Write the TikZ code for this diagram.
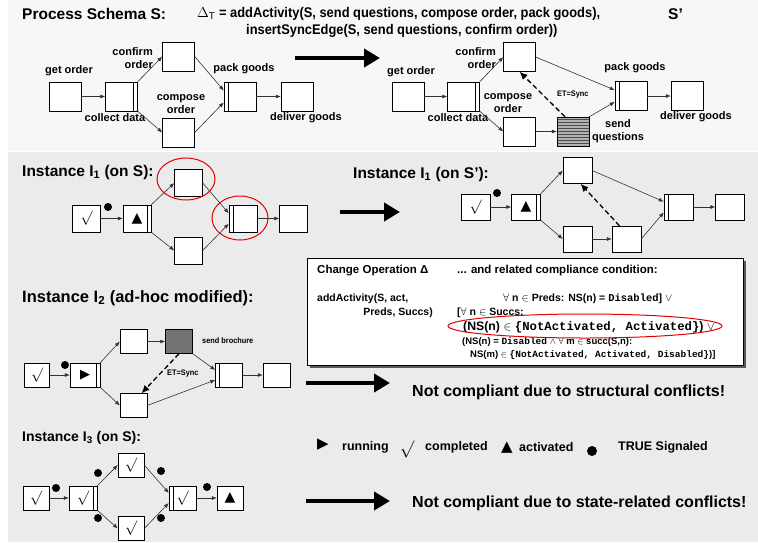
\documentclass[tikz,border=0pt]{standalone}
\usepackage{amssymb}
\usepackage{fontspec}
\setmainfont{Liberation Sans}
\setmonofont{Liberation Mono}
\newfontfamily\narrowsf[FakeStretch=0.92]{Liberation Sans}
\newfontfamily\symfont{DejaVu Sans}
\usetikzlibrary{arrows.meta,shadows}

\newcommand{\chk}{\fontsize{14}{14}\selectfont$\surd$}
\newcommand{\runsym}{{\symfont\fontsize{13}{13}\selectfont ▶}}
\newcommand{\actsym}{{\symfont\fontsize{14}{14}\selectfont ▲}}

\begin{document}
\begin{tikzpicture}[x=1pt, y=-1pt,
    act/.style={draw, fill=white, minimum width=32pt, minimum height=29pt, inner sep=0pt},
    ins/.style={act, minimum width=27pt, minimum height=25pt},
    splitr/.style={path picture={\draw ([xshift=-4pt]path picture bounding box.north east) -- ([xshift=-4pt]path picture bounding box.south east);}},
    joinl/.style={path picture={\draw ([xshift=4pt]path picture bounding box.north west) -- ([xshift=4pt]path picture bounding box.south west);}},
    hatch/.style={fill=black!30, path picture={\foreach \k in {1,...,9} \draw[black!70] ([yshift=\k*3pt]path picture bounding box.south west) -- ([yshift=\k*3pt]path picture bounding box.south east);}},
    flow/.style={-{Latex[length=5pt,width=4pt]}, line width=0.6pt, black!80},
    sync/.style={-{Latex[length=8pt,width=7pt]}, dashed, dash pattern=on 5pt off 3pt, line width=1.3pt},
    bigarrow/.style={-{Triangle[length=16pt,width=18pt]}, line width=4.5pt},
    sig/.style={circle, fill, inner sep=0pt, minimum size=8pt},
    lbl/.style={font=\bfseries\fontsize{11}{12.5}\selectfont, align=center, inner sep=0pt},
    ttl/.style={font=\bfseries\fontsize{15.5}{17}\selectfont, anchor=west, inner sep=0pt},
    tiny/.style={font=\narrowsf\bfseries\fontsize{8}{9}\selectfont, anchor=west, inner sep=0pt},
    txt/.style={font=\bfseries\fontsize{10.5}{12}\selectfont, anchor=west, inner sep=0pt},
    ring/.style={red!90!black, line width=1pt}]

    \useasboundingbox (0,0) rectangle (758,542);
    \fill[white] (0,0) rectangle (758,542);
    \fill[black!3] (8,0) rectangle (758,151);
    \fill[black!8] (8,152) rectangle (758,542);

    % process schema S
    \node[ttl] (tS) at (22,14) {Process Schema S:};
    \node[ttl, font=\narrowsf\bfseries\fontsize{14}{15}\selectfont] (dT) at (197,14) {$\Delta_{\mathrm{T}}$ = addActivity(S, send questions, compose order, pack goods),};
    \node[ttl, font=\narrowsf\bfseries\fontsize{14}{15}\selectfont] (sy) at (246,31) {insertSyncEdge(S, send questions, confirm order))};
    \node[ttl] (tT) at (668,14) {S’};

    \node[act] (getS) at (65,96.5) {};
    \node[act, splitr] (collS) at (121.5,96.5) {};
    \node[act] (confS) at (178.5,56.5) {};
    \node[act] (compS) at (178.5,132.5) {};
    \node[act, joinl] (packS) at (240,96.5) {};
    \node[act] (delS) at (297,96.5) {};
    \node[lbl] at (69,71) {get order};
    \node[lbl, align=right, anchor=east] at (153,58) {confirm\\order};
    \node[lbl] at (115,118) {collect data};
    \node[lbl] at (181,104) {compose\\order};
    \node[lbl] at (244,69) {pack goods};
    \node[lbl] at (306,118) {deliver goods};

    \draw[flow] (getS) -- (collS);
    \draw[flow] (collS.north east) -- (confS.west);
    \draw[flow] (collS.south east) -- (compS.west);
    \draw[flow] (confS.east) -- (packS.160);
    \draw[flow] (compS.east) -- (packS.200);
    \draw[flow] (packS) -- (delS);

    \coordinate (p1) at (295,58);
    \coordinate (q1) at (380,58);
    \draw[bigarrow] (p1) -- (q1);

    % process schema S'
    \node[act] (getT) at (408,96.5) {};
    \node[act, splitr] (collT) at (463.5,96.5) {};
    \node[act] (confT) at (519.5,57) {};
    \node[act] (compT) at (519.5,131.5) {};
    \node[act, hatch] (sendT) at (573,131.5) {};
    \node[act, joinl] (packT) at (631,96) {};
    \node[act] (delT) at (687,96) {};
    \node[lbl] at (411,72) {get order};
    \node[lbl, align=right, anchor=east] at (496,58) {confirm\\order};
    \node[lbl] at (458,118) {collect data};
    \node[lbl] at (508,103) {compose\\order};
    \node[lbl] at (618,131) {send\\questions};
    \node[lbl] at (635,68) {pack goods};
    \node[lbl] at (696,117) {deliver goods};
    \node[tiny] at (557,95) {ET=Sync};

    \draw[flow] (getT) -- (collT);
    \draw[flow] (collT.north east) -- (confT.west);
    \draw[flow] (collT.south east) -- (compT.west);
    \draw[flow] (compT) -- (sendT);
    \draw[flow] (confT.east) -- (packT.160);
    \draw[flow] (sendT.north east) -- (packT.200);
    \draw[flow] (packT) -- (delT);
    \draw[sync] ([xshift=-8pt]sendT.north) -- (confT.south);

    % instance I1 on S
    \node[ttl] (t1) at (22,172) {Instance I\textsubscript{1} (on S):};
    \node[ins, minimum width=28pt, minimum height=27pt] (a1) at (86.5,218.5) {\chk};
    \node[ins, minimum width=28pt, minimum height=27pt, splitr] (b1) at (137,218.5) {\actsym};
    \node[ins, minimum width=28pt, minimum height=27pt] (c1) at (188.5,183) {};
    \node[ins, minimum width=28pt, minimum height=27pt] (d1) at (188.5,250.5) {};
    \node[ins, minimum width=28pt, minimum height=27pt, joinl] (e1) at (243,218.5) {};
    \node[ins, minimum width=28pt, minimum height=27pt] (f1) at (293.5,218.5) {};
    \node[sig] (s1) at (108,207) {};
    \draw[flow] (a1) -- (b1);
    \draw[flow] (b1.north east) -- (c1.west);
    \draw[flow] (b1.south east) -- (d1.west);
    \draw[flow] (c1.east) -- (e1.160);
    \draw[flow] (d1.east) -- (e1.200);
    \draw[flow] (e1) -- (f1);
    \draw[ring] (186,179) ellipse [x radius=29pt, y radius=21pt];
    \draw[ring] (240,218) ellipse [x radius=28pt, y radius=22pt];

    \coordinate (p2) at (340,212);
    \coordinate (q2) at (400,212);
    \draw[bigarrow] (p2) -- (q2);

    % instance I1 on S'
    \node[ttl] (t1b) at (353,174) {Instance I\textsubscript{1} (on S’):};
    \node[ins, minimum width=29pt, minimum height=26pt] (a2) at (475.5,207) {\chk};
    \node[ins, minimum width=29pt, minimum height=26pt, splitr] (b2) at (526,207) {\actsym};
    \node[ins, minimum width=29pt, minimum height=26pt] (c2) at (577.5,170.5) {};
    \node[ins, minimum width=29pt, minimum height=26pt] (d2) at (577.5,239) {};
    \node[ins, minimum width=29pt, minimum height=26pt] (g2) at (626.5,239) {};
    \node[ins, minimum width=29pt, minimum height=26pt, joinl] (e2) at (678.5,207) {};
    \node[ins, minimum width=29pt, minimum height=26pt] (f2) at (730,207) {};
    \node[sig] (s2) at (497,193) {};
    \draw[flow] (a2) -- (b2);
    \draw[flow] (b2.north east) -- (c2.west);
    \draw[flow] (b2.south east) -- (d2.west);
    \draw[flow] (d2) -- (g2);
    \draw[flow] (c2.east) -- (e2.160);
    \draw[flow] (g2.east) -- (e2.200);
    \draw[flow] (e2) -- (f2);
    \draw[sync] ([xshift=-7pt]g2.north) -- ([xshift=3pt]c2.south);

    % change operation and compliance condition
    \node[draw, fill=white, minimum width=436pt, minimum height=107pt, inner sep=0pt,
          drop shadow={shadow xshift=3pt, shadow yshift=-3pt, fill=black!65, opacity=1}] (chg) at (525,311.5) {};
    \node[txt, font=\bfseries\fontsize{11.5}{13}\selectfont] at (317,271) {Change Operation Δ};
    \node[txt, font=\bfseries\fontsize{11.5}{13}\selectfont] at (457,271) {... and related compliance condition:};
    \node[txt] at (317,299) {addActivity(S, act,};
    \node[txt, anchor=east] at (433,313) {Preds, Succs)};
    \node[txt] at (503,299) {$\forall$ n $\in$ Preds: NS(n) = {\ttfamily Disabled}] $\vee$};
    \node[txt] at (457,313) {[$\forall$ n $\in$ Succs:};
    \node[txt, font=\bfseries\fontsize{12.3}{14}\selectfont] at (463,327) {(NS(n) $\in$ {\ttfamily\{NotActivated, Activated\}}) $\vee$};
    \node[txt, font=\bfseries\fontsize{9.5}{11}\selectfont] at (462,342) {(NS(n) = {\ttfamily Disabled} $\wedge$ $\forall$ m $\in$ succ(S,n):};
    \node[txt, font=\bfseries\fontsize{9.5}{11}\selectfont] at (470,355) {NS(m) $\in$ {\ttfamily\{NotActivated, Activated, Disabled\}})]};
    \draw[ring] (585,326) ellipse [x radius=137pt, y radius=12pt];

    % instance I2
    \node[ttl, font=\bfseries\fontsize{16.5}{18}\selectfont] (t2) at (22,298) {Instance I\textsubscript{2} (ad-hoc modified):};
    \node[ins, minimum width=25pt, minimum height=24pt] (a3) at (37,375) {\chk};
    \node[ins, minimum width=30pt, minimum height=24pt, splitr] (b3) at (85,375) {\runsym};
    \node[ins, minimum height=24pt] (c3) at (133.5,341.5) {};
    \node[ins, minimum height=24pt, fill=black!55] (g3) at (179,341.5) {};
    \node[ins, minimum height=24pt] (d3) at (133.5,405.5) {};
    \node[ins, minimum height=24pt, joinl] (e3) at (229,375) {};
    \node[ins, minimum height=24pt] (f3) at (276.5,375) {};
    \node[sig] (s3) at (65,365) {};
    \node[tiny] at (202,341) {send brochure};
    \node[tiny] at (167,374) {ET=Sync};
    \draw[flow] (a3) -- (b3);
    \draw[flow] (b3.north east) -- (c3.west);
    \draw[flow] (b3.south east) -- (d3.west);
    \draw[flow] (c3) -- (g3);
    \draw[flow] (g3.south east) -- (e3.160);
    \draw[flow] (d3.east) -- (e3.200);
    \draw[flow] (e3) -- (f3);
    \draw[sync] (g3.south) -- ([xshift=8pt]d3.north);

    \coordinate (p3) at (306,383);
    \coordinate (q3) at (390,383);
    \draw[bigarrow] (p3) -- (q3);
    \node[ttl, font=\bfseries\fontsize{16}{18}\selectfont] (nc1) at (412,392) {Not compliant due to structural conflicts!};

    % instance I3
    \node[ttl, font=\bfseries\fontsize{14}{16}\selectfont] (t3) at (22,438) {Instance I\textsubscript{3} (on S):};
    \node[ins, minimum width=26pt, minimum height=24pt] (a4) at (36,498) {\chk};
    \node[ins, minimum width=28pt, minimum height=24pt, splitr] (b4) at (83,498) {\chk};
    \node[ins, minimum width=26pt, minimum height=24pt] (c4) at (131,465) {\chk};
    \node[ins, minimum width=26pt, minimum height=24pt] (d4) at (131,528.5) {\chk};
    \node[ins, minimum width=27pt, minimum height=24pt, joinl] (e4) at (182.5,498) {\chk};
    \node[ins, minimum width=26pt, minimum height=24pt] (f4) at (230,498) {\actsym};
    \draw[flow] (a4) -- (b4);
    \draw[flow] (b4.north east) -- (c4.west);
    \draw[flow] (b4.south east) -- (d4.west);
    \draw[flow] (c4.east) -- (e4.160);
    \draw[flow] (d4.east) -- (e4.200);
    \draw[flow] (e4) -- (f4);
    \node[sig] (s4) at (56,488) {};
    \node[sig] (s5) at (98,473) {};
    \node[sig] (s6) at (161,471) {};
    \node[sig] (s7) at (98,518) {};
    \node[sig] (s8) at (161,518) {};
    \node[sig] (s9) at (207,487) {};

    % legend
    \node[font=\symfont\fontsize{15}{15}\selectfont] (lr) at (323,445) {▶};
    \node[txt, font=\bfseries\fontsize{12.5}{14}\selectfont] at (342,447) {running};
    \node[font=\fontsize{17}{17}\selectfont] (lc) at (407,449) {$\surd$};
    \node[txt, font=\bfseries\fontsize{12.5}{14}\selectfont] at (425,447) {completed};
    \node[font=\symfont\fontsize{15}{15}\selectfont] (la) at (507,448) {▲};
    \node[txt, font=\bfseries\fontsize{12.5}{14}\selectfont] at (519,447) {activated};
    \node[sig, minimum size=10pt] (ls) at (592,451) {};
    \node[txt, font=\bfseries\fontsize{12.5}{14}\selectfont] at (618,447) {TRUE Signaled};

    \coordinate (p4) at (306,501);
    \coordinate (q4) at (390,501);
    \draw[bigarrow] (p4) -- (q4);
    \node[ttl, font=\bfseries\fontsize{16}{18}\selectfont] (nc2) at (412,503) {Not compliant due to state-related conflicts!};
\end{tikzpicture}
\end{document}
